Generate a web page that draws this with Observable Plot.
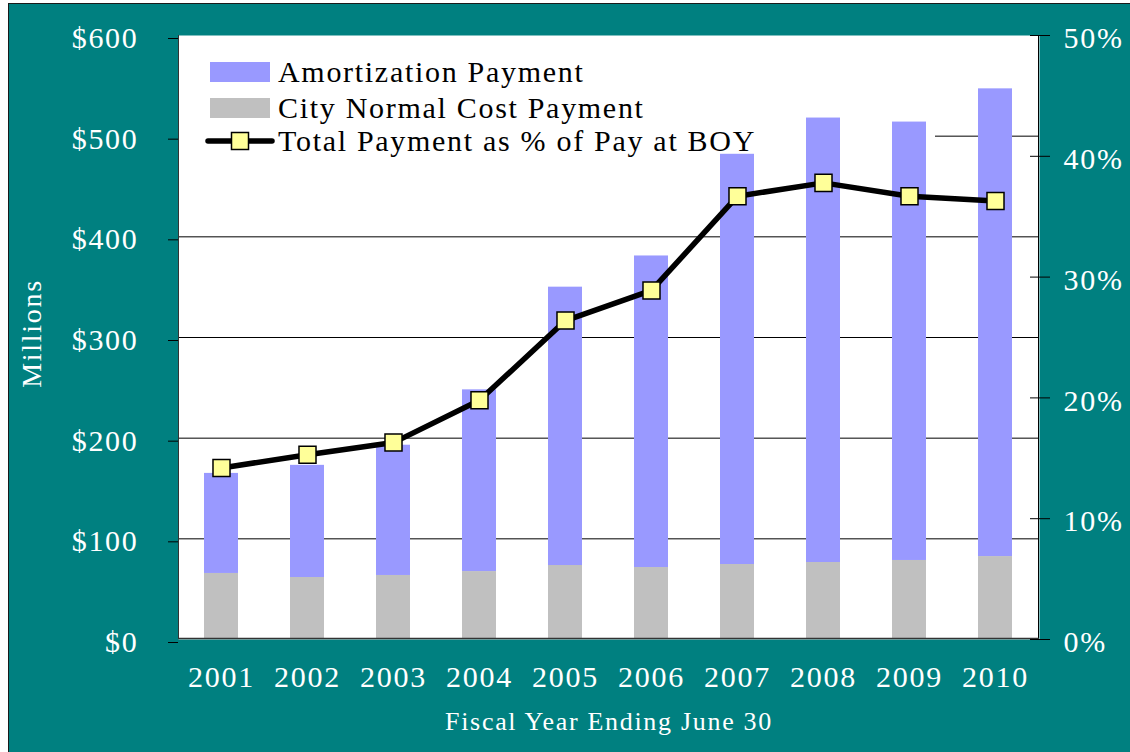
<!DOCTYPE html>
<html><head><meta charset="utf-8">
<script src="https://cdn.jsdelivr.net/npm/d3@7"></script>
<script src="https://cdn.jsdelivr.net/npm/@observablehq/plot@0.6"></script>
<style>
html,body{margin:0;padding:0;background:#fff;}
#chart svg{display:block;margin:3px 0 0 8px;border-top:1px solid #1a1a1a;border-left:1px solid #1a1a1a;}
</style></head><body><div id="chart"></div>
<script>
const years = ["2001","2002","2003","2004","2005","2006","2007","2008","2009","2010"];
const normalCost = [65.6, 61.6, 63.6, 67.5, 73.5, 71.5, 74.5, 76.5, 78.5, 82.4];
const amortization = [99.4, 111.4, 129.4, 180.5, 276.5, 309.5, 407.5, 441.5, 435.5, 464.6];
const totalPctOfPay = [14.2, 15.3, 16.3, 19.8, 26.4, 28.9, 36.7, 37.8, 36.7, 36.3];
const leftTicks = [0, 100, 200, 300, 400, 500, 600];
const rightTicks = [0, 10, 20, 30, 40, 50];
const seriesNames = ["Amortization Payment", "City Normal Cost Payment", "Total Payment as % of Pay at BOY"];
const seriesColors = ["#9999FF", "#C0C0C0"];
const lineColor = "#000000";
const markerFill = "#FFFF99";
const teal = "#008080";

const yMax = 600, pctMax = 50, k = yMax / pctMax;

const bars = [];
years.forEach((y, i) => {
  bars.push({year: y, series: seriesNames[1], value: normalCost[i]});
  bars.push({year: y, series: seriesNames[0], value: amortization[i]});
});
const pts = years.map((y, i) => ({year: y, pct: totalPctOfPay[i]}));

const W = 1121, H = 748;
const mL = 169, mT = 31, mR = 91, mB = 113;

const legendBox = (index, scales, values, dim) => {
  const g = d3.create("svg:g");
  g.append("rect").attr("x", dim.marginLeft).attr("y", 40)
    .attr("width", 926 - dim.marginLeft).attr("height", 106).attr("fill", "white");
  return g.node();
};

const decorations = (index, scales, values, dim) => {
  const g = d3.create("svg:g");
  const x0 = dim.marginLeft, x1 = dim.width - dim.marginRight;
  const y0 = dim.marginTop, y1 = dim.height - dim.marginBottom;
  g.append("line").attr("x1", x0 + 0.5).attr("x2", x0 + 0.5).attr("y1", y0).attr("y2", y1).attr("stroke", "#333");
  g.append("line").attr("x1", x1 - 0.5).attr("x2", x1 - 0.5).attr("y1", y0).attr("y2", y1).attr("stroke", "#000");
  g.append("line").attr("x1", x0).attr("x2", x1).attr("y1", y1 - 0.5).attr("y2", y1 - 0.5).attr("stroke", "#333").attr("stroke-width", 1.5);
  return g.node();
};

const legend = (index, scales, values, dim) => {
  const g = d3.create("svg:g").attr("text-anchor", "start");
  const lx = 201, tx = 269;
  const rows = [{y: 68, kind: "bar", c: seriesColors[0]}, {y: 104, kind: "bar", c: seriesColors[1]}, {y: 137, kind: "line"}];
  rows.forEach((r, i) => {
    if (r.kind === "bar") {
      g.append("rect").attr("x", lx).attr("y", r.y - 10).attr("width", 60).attr("height", 20).attr("fill", r.c);
    } else {
      g.append("line").attr("x1", lx - 2).attr("x2", lx + 62).attr("y1", r.y).attr("y2", r.y)
        .attr("stroke", lineColor).attr("stroke-width", 5.5).attr("stroke-linecap", "round");
      g.append("rect").attr("x", lx + 30 - 8.5).attr("y", r.y - 8.5).attr("width", 17).attr("height", 17)
        .attr("fill", markerFill).attr("stroke", "#000").attr("stroke-width", 1.5);
    }
    g.append("text").attr("x", tx).attr("y", r.y + 10).attr("fill", "#000")
      .attr("text-anchor", "start").style("font-size", "30px").text(seriesNames[i]);
  });
  return g.node();
};

const chart = Plot.plot({
  width: W, height: H,
  marginLeft: mL, marginTop: mT, marginRight: mR, marginBottom: mB,
  style: {background: teal, color: "white", fontFamily: "'Liberation Serif', 'DejaVu Serif', serif", fontSize: "30px", letterSpacing: "1.7px", overflow: "visible"},
  x: {type: "band", domain: years, paddingInner: 0.6, paddingOuter: 0.3, label: null},
  y: {domain: [0, yMax], label: null},
  color: {domain: [seriesNames[0], seriesNames[1]], range: seriesColors},
  marks: [
    Plot.frame({fill: "white", stroke: null}),
    Plot.gridY({ticks: [100, 200, 300, 400, 500], stroke: "#000", strokeOpacity: 1, strokeWidth: 1}),
    legendBox,
    Plot.barY(bars, {x: "year", y: "value", fill: "series", order: [seriesNames[1], seriesNames[0]], inset: 0}),
    decorations,
    Plot.line(pts, {x: "year", y: d => d.pct * k, stroke: lineColor, strokeWidth: 5.5, strokeLinejoin: "round"}),
    Plot.dot(pts, {x: "year", y: d => d.pct * k, symbol: "square", r: 9.6, fill: markerFill, stroke: "#000", strokeWidth: 1.5}),
    Plot.axisY({ticks: leftTicks, tickFormat: d => "$" + d, tickSize: 10, tickPadding: 30, dy: 3, stroke: "#000", fill: "white", label: null}),
    Plot.axisY({anchor: "right", ticks: rightTicks.map(p => p * k), tickSize: 20, dx: -10, tickFormat: () => "", stroke: "#000", label: null}),
    Plot.axisY({anchor: "right", ticks: rightTicks.map(p => p * k), tickSize: 0, tickPadding: 24, dy: 3, tickFormat: d => (d / k) + "%", fill: "white", label: null}),
    Plot.axisX({tickSize: 0, tickPadding: 26, fill: "white", label: null}),
    Plot.text(["Fiscal Year Ending June 30"], {frameAnchor: "bottom", dy: 90, fill: "white", fontSize: 26, lineAnchor: "bottom", text: d => d}),
    Plot.text(["Millions"], {frameAnchor: "left", dx: -146, dy: -4, rotate: -90, textAnchor: "middle", fill: "white", fontSize: 28, text: d => d}),
    legend
  ]
});
document.getElementById("chart").appendChild(chart);
</script></body></html>
